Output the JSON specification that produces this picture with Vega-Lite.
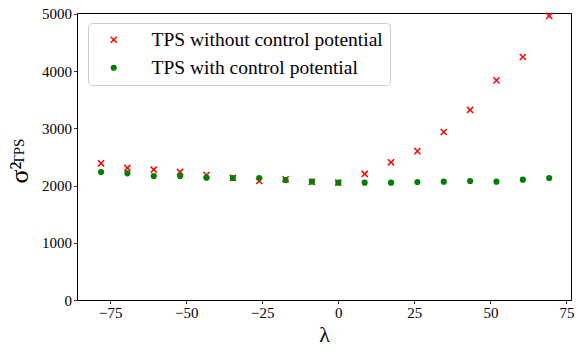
{
  "$schema": "https://vega.github.io/schema/vega-lite/v6.json",
  "width": 494,
  "height": 287,
  "autosize": "none",
  "padding": {"left": 77, "top": 13, "right": 10, "bottom": 56},
  "background": "white",
  "title": {"text": "TPS", "orient": "left", "anchor": "middle", "fontSize": 15, "font": "Liberation Serif", "fontWeight": "normal", "color": "black", "offset": -20, "dy": 1, "dx": 5},
  "config": {
    "font": "Liberation Serif",
    "view": {"stroke": "black", "strokeWidth": 1},
    "axis": {"domain": false, "grid": false, "labelFont": "Liberation Serif", "labelFontSize": 15, "labelColor": "black", "tickColor": "black", "tickSize": 3.5, "tickWidth": 0.8, "labelPadding": 2, "titleFont": "Liberation Serif", "titleFontWeight": "normal", "titleColor": "black"},
    "legend": {"orient": "none", "legendX": 11, "legendY": 10, "padding": 7, "fillColor": "white", "strokeColor": "#cccccc", "cornerRadius": 4, "symbolOffset": 9, "labelOffset": 28, "labelFont": "Liberation Serif", "labelFontSize": 19.5, "labelColor": "black", "rowPadding": 7, "symbolSize": 38, "symbolStrokeWidth": 1.5, "labelLimit": 0}
  },
  "data": {"values": [
    {"lambda": -78, "var": 2390, "series": "TPS without control potential"},
    {"lambda": -69.33, "var": 2308, "series": "TPS without control potential"},
    {"lambda": -60.67, "var": 2278, "series": "TPS without control potential"},
    {"lambda": -52, "var": 2238, "series": "TPS without control potential"},
    {"lambda": -43.33, "var": 2185, "series": "TPS without control potential"},
    {"lambda": -34.67, "var": 2133, "series": "TPS without control potential"},
    {"lambda": -26, "var": 2080, "series": "TPS without control potential"},
    {"lambda": -17.33, "var": 2110, "series": "TPS without control potential"},
    {"lambda": -8.67, "var": 2065, "series": "TPS without control potential"},
    {"lambda": 0, "var": 2050, "series": "TPS without control potential"},
    {"lambda": 8.67, "var": 2203, "series": "TPS without control potential"},
    {"lambda": 17.33, "var": 2407, "series": "TPS without control potential"},
    {"lambda": 26, "var": 2603, "series": "TPS without control potential"},
    {"lambda": 34.67, "var": 2937, "series": "TPS without control potential"},
    {"lambda": 43.33, "var": 3322, "series": "TPS without control potential"},
    {"lambda": 52, "var": 3840, "series": "TPS without control potential"},
    {"lambda": 60.67, "var": 4248, "series": "TPS without control potential"},
    {"lambda": 69.33, "var": 4965, "series": "TPS without control potential"},
    {"lambda": -78, "var": 2238, "series": "TPS with control potential"},
    {"lambda": -69.33, "var": 2214, "series": "TPS with control potential"},
    {"lambda": -60.67, "var": 2168, "series": "TPS with control potential"},
    {"lambda": -52, "var": 2168, "series": "TPS with control potential"},
    {"lambda": -43.33, "var": 2138, "series": "TPS with control potential"},
    {"lambda": -34.67, "var": 2133, "series": "TPS with control potential"},
    {"lambda": -26, "var": 2133, "series": "TPS with control potential"},
    {"lambda": -17.33, "var": 2098, "series": "TPS with control potential"},
    {"lambda": -8.67, "var": 2068, "series": "TPS with control potential"},
    {"lambda": 0, "var": 2051, "series": "TPS with control potential"},
    {"lambda": 8.67, "var": 2051, "series": "TPS with control potential"},
    {"lambda": 17.33, "var": 2051, "series": "TPS with control potential"},
    {"lambda": 26, "var": 2063, "series": "TPS with control potential"},
    {"lambda": 34.67, "var": 2068, "series": "TPS with control potential"},
    {"lambda": 43.33, "var": 2080, "series": "TPS with control potential"},
    {"lambda": 52, "var": 2068, "series": "TPS with control potential"},
    {"lambda": 60.67, "var": 2103, "series": "TPS with control potential"},
    {"lambda": 69.33, "var": 2133, "series": "TPS with control potential"}
  ]},
  "mark": {"type": "point", "strokeWidth": 1.5, "opacity": 1, "size": 38},
  "encoding": {
    "x": {"field": "lambda", "type": "quantitative", "scale": {"domain": [-85.9, 76.5], "nice": false, "zero": false}, "axis": {"values": [-75, -50, -25, 0, 25, 50, 75], "title": "λ", "titleFontSize": 22, "titlePadding": 4, "labelFont": "Liberation Serif"}},
    "y": {"field": "var", "type": "quantitative", "scale": {"domain": [0, 5017], "nice": false}, "axis": {"values": [0, 1000, 2000, 3000, 4000, 5000], "format": "d", "labelFont": "Liberation Serif", "title": "σ²", "titleFontSize": 26, "titleX": -50, "titleY": 170, "titleAngle": -90, "titleAlign": "left", "titleBaseline": "alphabetic"}},
    "fill": {"field": "series", "type": "nominal", "scale": {"domain": ["TPS without control potential", "TPS with control potential"], "range": ["transparent", "#008000"]}, "legend": {"title": null, "labelFont": "Liberation Serif"}},
    "stroke": {"field": "series", "type": "nominal", "scale": {"domain": ["TPS without control potential", "TPS with control potential"], "range": ["#ff0000", "transparent"]}, "legend": {"title": null, "labelFont": "Liberation Serif"}},
    "shape": {"field": "series", "type": "nominal", "scale": {"domain": ["TPS without control potential", "TPS with control potential"], "range": ["M-1,-1L1,1M-1,1L1,-1", "circle"]}, "legend": {"title": null, "labelFont": "Liberation Serif"}}
  }
}
